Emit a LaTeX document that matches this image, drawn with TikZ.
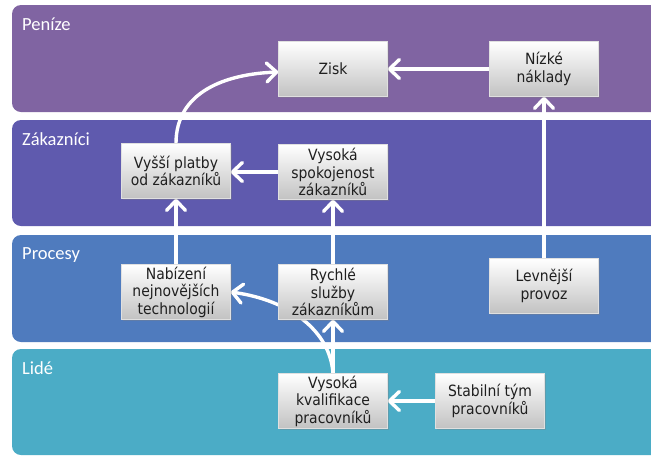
\documentclass[tikz,border=0pt]{standalone}
\usepackage{fontspec}
\setmainfont{DejaVu Sans Condensed}
\newfontfamily\bandfont{Carlito}
\usetikzlibrary{arrows.meta,shadows}
\pgfdeclarelayer{bands}
\pgfdeclarelayer{links}
\pgfsetlayers{bands,links,main}
\definecolor{cMoney}{HTML}{8064A2}
\definecolor{cCust}{HTML}{5F5AAE}
\definecolor{cProc}{HTML}{4F7BBE}
\definecolor{cPeople}{HTML}{4BACC6}
\begin{document}
\begin{tikzpicture}[x=1pt,y=-1pt,
  band/.style={rounded corners=9pt},
  bandlabel/.style={anchor=base west, text=white, inner sep=0pt,
    font=\bandfont\fontsize{18.5}{22}\selectfont},
  box/.style={minimum width=109pt, minimum height=55pt, inner sep=2pt,
    align=center, top color=white, bottom color=black!24, draw=black!12,
    line width=0.4pt,
    drop shadow={shadow xshift=1.2pt,shadow yshift=-1.5pt,opacity=0.35},
    font=\fontsize{15.5}{17.5}\selectfont, text=black!88},
  link/.style={draw=white, line width=3.4pt,
    -{Straight Barb[length=10pt,width=19pt,round]}}
]
\useasboundingbox (0,0) rectangle (651,456);
\begin{pgfonlayer}{bands}
  \fill[white] (0,0) rectangle (651,456);
  \fill[band, cMoney]  (12,5)   rectangle (670,112);
  \fill[band, cCust]   (12,120) rectangle (670,226);
  \fill[band, cProc]   (12,235) rectangle (670,342);
  \fill[band, cPeople] (12,349) rectangle (670,455);
\end{pgfonlayer}
\node[bandlabel] (lMoney)  at (22,30)  {Peníze};
\node[bandlabel] (lCust)   at (22,145) {Zákazníci};
\node[bandlabel] (lProc)   at (22,259) {Procesy};
\node[bandlabel] (lPeople) at (22,374) {Lidé};

\node[box] (zisk)   at (333,69)  {Zisk};
\node[box] (nizke)  at (544,69)  {Nízké\\náklady};
\node[box] (vyssi)  at (176,171) {Vyšší platby\\od zákazníků};
\node[box] (spokoj) at (333,172) {Vysoká\\spokojenost\\zákazníků};
\node[box] (nabiz)  at (176,292) {Nabízení\\nejnovějších\\technologií};
\node[box] (rychle) at (333,292) {Rychlé\\služby\\zákazníkům};
\node[box] (levn)   at (544,286) {Levnější\\provoz};
\node[box] (kval)   at (333,401) {Vysoká\\kvalifikace\\pracovníků};
\node[box] (stab)   at (490,401) {Stabilní tým\\pracovníků};

\begin{pgfonlayer}{links}
  \draw[link] (nizke) -- (zisk);
  \draw[link] (levn) -- (nizke);
  \draw[link] (spokoj.west) -- (spokoj.west -| vyssi.east);
  \draw[link] (vyssi.north) .. controls +(0,-52) and +(-52,2) .. ([yshift=-3pt]zisk.west);
  \draw[link] (nabiz) -- (vyssi);
  \draw[link] (rychle) -- (spokoj);
  \draw[link] (kval) -- (rychle);
  \draw[link] (kval.north) .. controls +(-3,-43) and +(58,8) .. (nabiz.east);
  \draw[link] (stab) -- (kval);
\end{pgfonlayer}
\end{tikzpicture}
\end{document}
